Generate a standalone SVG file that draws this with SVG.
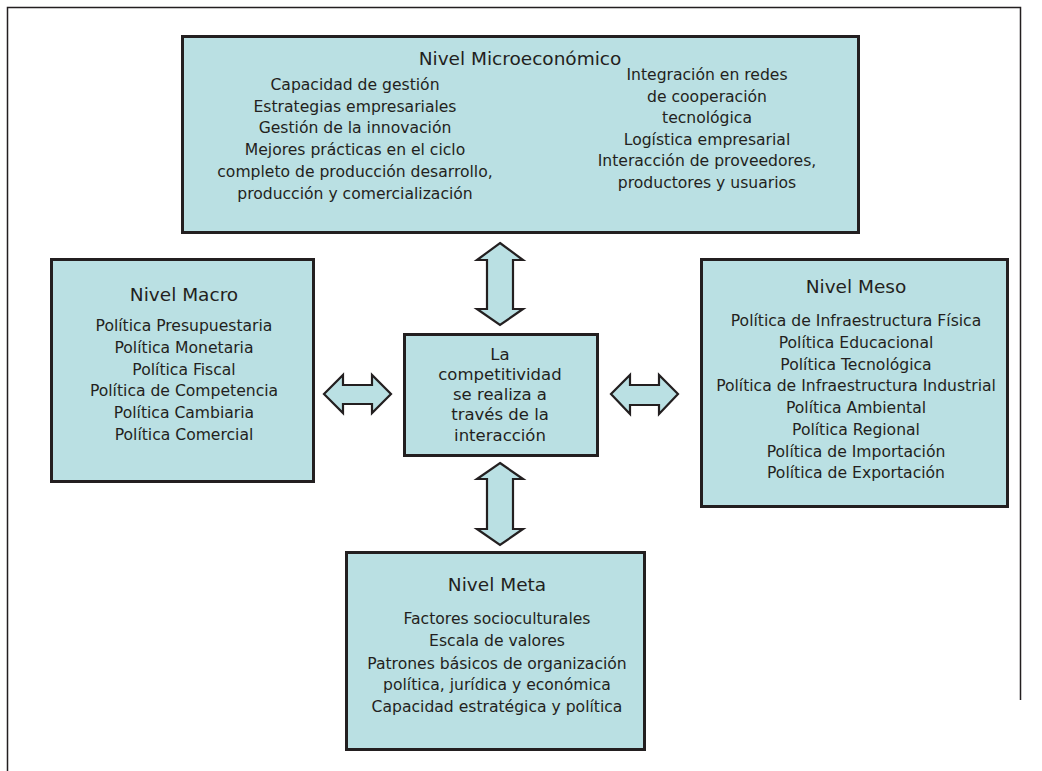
<svg xmlns="http://www.w3.org/2000/svg" width="1042" height="771" viewBox="0 0 1042 771">
<style>
.box{fill:#bae0e3;stroke:#231f20;stroke-width:3}
.arr{fill:#bae0e3;stroke:#231f20;stroke-width:2.2;stroke-linejoin:miter}
.t{font-family:"DejaVu Sans",sans-serif;fill:#231f20;text-anchor:middle}
.h{font-size:18.5px}
.b{font-size:15.6px}
.c{font-size:16.5px}
</style>
<rect width="1042" height="771" fill="#ffffff"/>
<path d="M7.5,771 V7.5 H1020.5 V700" fill="none" stroke="#231f20" stroke-width="1.5"/>
<g id="micro">
<rect class="box" x="182.5" y="36.5" width="676" height="196"/>
<text class="t h" x="520" y="65">Nivel Microeconómico</text>
<g class="t b">
<text x="355" y="90">Capacidad de gestión</text>
<text x="355" y="111.7">Estrategias empresariales</text>
<text x="355" y="133.4">Gestión de la innovación</text>
<text x="355" y="155.1">Mejores prácticas en el ciclo</text>
<text x="355" y="176.8">completo de producción desarrollo,</text>
<text x="355" y="198.5">producción y comercialización</text>
<text x="707" y="80">Integración en redes</text>
<text x="707" y="101.5">de cooperación</text>
<text x="707" y="123">tecnológica</text>
<text x="707" y="144.5">Logística empresarial</text>
<text x="707" y="166">Interacción de proveedores,</text>
<text x="707" y="187.5">productores y usuarios</text>
</g>
</g>
<g id="macro">
<rect class="box" x="51.5" y="259.5" width="262" height="222"/>
<text class="t h" x="184" y="301">Nivel Macro</text>
<g class="t b">
<text x="184" y="331">Política Presupuestaria</text>
<text x="184" y="353">Política Monetaria</text>
<text x="184" y="375">Política Fiscal</text>
<text x="184" y="396">Política de Competencia</text>
<text x="184" y="418">Política Cambiaria</text>
<text x="184" y="440">Política Comercial</text>
</g>
</g>
<g id="centro">
<rect class="box" x="404.5" y="334.5" width="193" height="121"/>
<g class="t c">
<text x="500" y="360">La</text>
<text x="500" y="380">competitividad</text>
<text x="500" y="400">se realiza a</text>
<text x="500" y="420">través de la</text>
<text x="500" y="441">interacción</text>
</g>
</g>
<g id="meso">
<rect class="box" x="701.5" y="259.5" width="306" height="247"/>
<text class="t h" x="856" y="293">Nivel Meso</text>
<g class="t b">
<text x="856" y="326">Política de Infraestructura Física</text>
<text x="856" y="348">Política Educacional</text>
<text x="856" y="370">Política Tecnológica</text>
<text x="856" y="391">Política de Infraestructura Industrial</text>
<text x="856" y="413">Política Ambiental</text>
<text x="856" y="435">Política Regional</text>
<text x="856" y="457">Política de Importación</text>
<text x="856" y="478">Política de Exportación</text>
</g>
</g>
<g id="meta">
<rect class="box" x="346.5" y="552.5" width="298" height="197"/>
<text class="t h" x="497" y="591">Nivel Meta</text>
<g class="t b">
<text x="497" y="624">Factores socioculturales</text>
<text x="497" y="646">Escala de valores</text>
<text x="497" y="669">Patrones básicos de organización</text>
<text x="497" y="690">política, jurídica y económica</text>
<text x="497" y="712">Capacidad estratégica y política</text>
</g>
</g>
<g id="connectors">
<polygon class="arr" points="500,243 523,260 513,260 513,309 523,309 500,325 477,309 487,309 487,260 477,260"/>
<polygon class="arr" points="500,463 523,479 513,479 513,529 523,529 500,545 477,529 487,529 487,479 477,479"/>
<polygon class="arr" points="324,394 343,375 343,385 372,385 372,375 391,394 372,413 372,404 343,404 343,413"/>
<polygon class="arr" points="611,394 630,375 630,385 659,385 659,375 678,394 659,414 659,405 630,405 630,414"/>
</g>
</svg>
